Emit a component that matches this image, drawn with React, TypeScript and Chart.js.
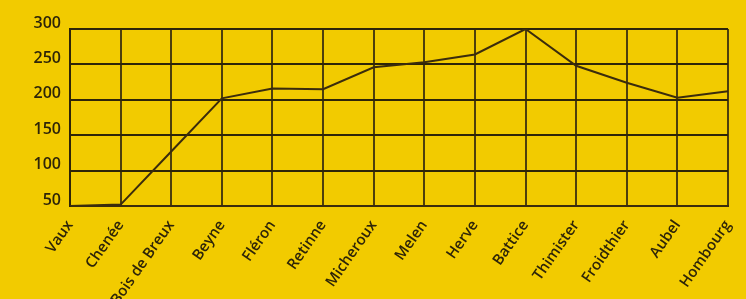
import React, { useEffect, useRef } from "react";
import { Chart, registerables } from "chart.js";

Chart.register(...registerables);

const categories = [
  "Vaux", "Chenée", "Bois de Breux", "Beyne", "Fléron", "Retinne", "Micheroux",
  "Melen", "Herve", "Battice", "Thimister", "Froidthier", "Aubel", "Hombourg",
];
const altitudes = [50, 52, 127, 202, 216, 215, 246, 253, 264, 300, 248, 224, 203, 212];
const yTicks = [50, 100, 150, 200, 250, 300];

export default function App() {
  const ref = useRef<HTMLCanvasElement | null>(null);
  useEffect(() => {
    document.body.style.margin = "0";
    document.body.style.background = "#f2cb00";
    const ctx = ref.current!;
    const chart = new Chart(ctx, {
      type: "line",
      data: {
        labels: categories,
        datasets: [
          {
            data: altitudes,
            borderColor: "#3b2c0c",
            borderWidth: 2,
            pointRadius: 0,
            tension: 0,
            fill: false,
          },
        ],
      },
      options: {
        animation: false,
        responsive: false,
        maintainAspectRatio: false,
        layout: { padding: { top: 29, right: 18, left: 0, bottom: 0 } },
        plugins: { legend: { display: false }, tooltip: { enabled: false } },
        scales: {
          x: {
            offset: false,
            grid: { color: "#4e3f0c", lineWidth: 2, drawTicks: false },
            border: { color: "#3b2c0c", width: 2 },
            ticks: {
              color: "#2e2508",
              font: { family: "Open Sans", size: 15, weight: "600" },
              minRotation: 55,
              maxRotation: 55,
              padding: 11,
              autoSkip: false,
            },
            afterFit: (s: any) => {
              s.height = 93;
              s.paddingRight = 0;
              s.paddingLeft = 0;
            },
          },
          y: {
            min: 50,
            max: 300,
            afterBuildTicks: (s: any) => {
              s.ticks = yTicks.map((v) => ({ value: v }));
            },
            grid: { color: "#2e2508", lineWidth: 2, drawTicks: false },
            border: { color: "#2e2508", width: 2 },
            ticks: {
              color: "#2e2508",
              font: { family: "Open Sans", size: 16, weight: "600" },
              padding: 9,
              labelOffset: -6,
            },
            afterFit: (s: any) => {
              s.width = 70;
            },
          },
        },
      },
    });
    return () => chart.destroy();
  }, []);
  return (
    <div style={{ width: 746, height: 299, background: "#f2cb00" }}>
      <canvas ref={ref} width={746} height={299} style={{ display: "block" }} />
    </div>
  );
}
